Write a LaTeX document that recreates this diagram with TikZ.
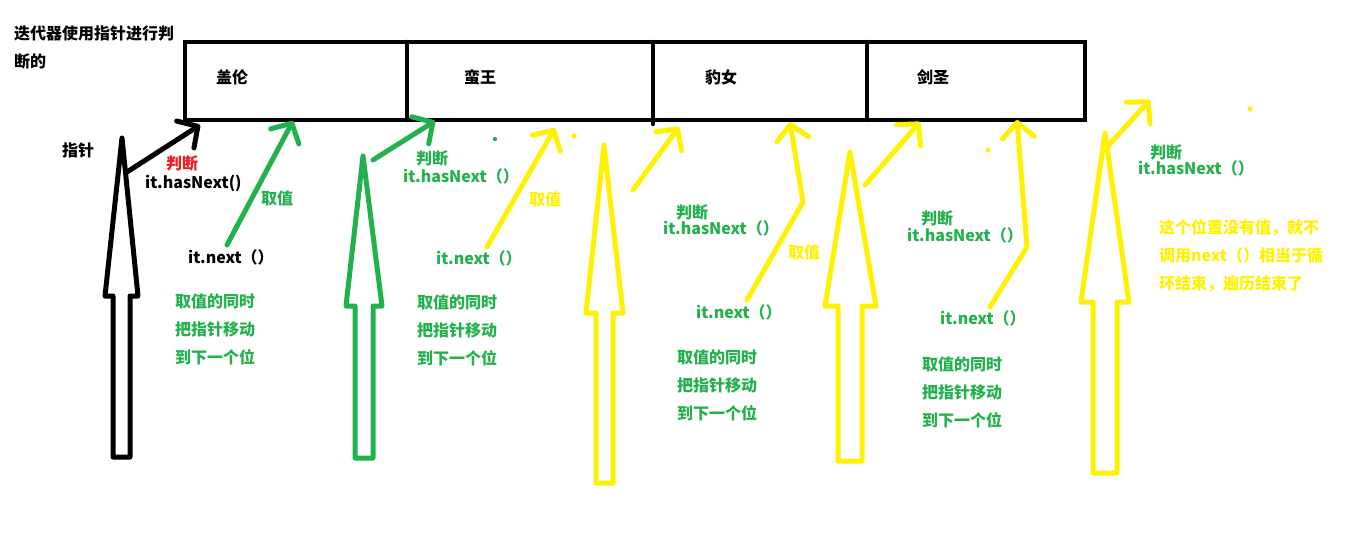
\documentclass[tikz,border=0pt]{standalone}
\usepackage{fontspec}
\setmainfont{Noto Sans CJK SC}
\usetikzlibrary{arrows.meta}
\definecolor{pgreen}{RGB}{34,177,76}
\definecolor{pyellow}{RGB}{255,242,0}
\definecolor{pred}{RGB}{237,28,36}
\newcommand\blockarr[9]{%
  \draw[blockline,#1] (#2,#3) -- (#6,#4) -- (#8,#4) -- (#8,#9) -- (#7,#9) -- (#7,#4) -- (#5,#4) -- cycle;}
\begin{document}
\begin{tikzpicture}[x=1pt,y=-1pt,
  txt/.style={anchor=west,inner sep=0pt,font=\fontsize{16}{28}\selectfont\bfseries,align=left},
  blockline/.style={line width=5pt,line join=round,line cap=round},
  ptr/.style={line width=5pt,line cap=round,line join=round,-{Straight Barb[length=15pt,width=32pt,round]}},
  boxline/.style={line width=4.5pt,line cap=round}]
\useasboundingbox[fill=white] (0,0) rectangle (1360,538);

% title
\node[txt] (title) at (14,47) {迭代器使用指针进行判\\断的};

% list box
\draw[boxline] (185,42) rectangle (1085,120);
\draw[boxline] (407,42) -- (407,120);
\draw[boxline] (653,42) -- (653,124);
\draw[boxline] (867,42) -- (867,120);
\node[txt] (e1) at (216,77) {盖伦};
\node[txt] (e2) at (464,77) {蛮王};
\node[txt] (e3) at (705,77) {豹女};
\node[txt] (e4) at (917,77) {剑圣};

\node[txt] (ptrlbl) at (62,150) {指针};

% block arrows (pointer positions)
\blockarr{black}{122}{138}{296}{105}{138}{113}{130}{457}
\blockarr{pgreen}{363}{156}{306}{346}{382}{355}{373}{458}
\blockarr{pyellow}{604}{145}{313}{586}{623}{596}{613}{483}
\blockarr{pyellow}{850}{152}{306}{825}{876}{838}{862}{461}
\blockarr{pyellow}{1105}{133}{302}{1081}{1129}{1093}{1117}{473}

% coordinates for thin arrows
\coordinate (a1s) at (127,172); \coordinate (a1e) at (200,125);
\coordinate (a2s) at (227,245); \coordinate (a2e) at (293,121);
\coordinate (a3s) at (373,160); \coordinate (a3e) at (435,121);
\coordinate (a4s) at (487,247); \coordinate (a4e) at (555,128);
\coordinate (a5s) at (633,190); \coordinate (a5e) at (679,127);
\coordinate (a6s) at (747,300); \coordinate (a6m) at (803,202); \coordinate (a6e) at (790,122);
\coordinate (a7s) at (865,185); \coordinate (a7e) at (920,122);
\coordinate (a8s) at (990,307); \coordinate (a8m) at (1027,247); \coordinate (a8e) at (1017,120);
\coordinate (a9s) at (1107,147); \coordinate (a9e) at (1150,100);

\draw[ptr,black] (a1s) -- (a1e);
\draw[ptr,pgreen] (a2s) -- (a2e);
\draw[ptr,pgreen] (a3s) -- (a3e);
\draw[ptr,pyellow] (a4s) -- (a4e);
\draw[ptr,pyellow] (a5s) -- (a5e);
\draw[ptr,pyellow] (a6s) -- (a6m) -- (a6e);
\draw[ptr,pyellow] (a7s) -- (a7e);
\draw[ptr,pyellow] (a8s) -- (a8m) -- (a8e);
\draw[ptr,pyellow] (a9s) -- (a9e);

% dots
\fill[pgreen] (495,139) circle (2.2);
\fill[pyellow] (574,136) circle (2.6);
\fill[pyellow] (988,150) circle (2.6);
\fill[pyellow] (1250,109) circle (2.6);

% labels, position 1
\node[txt,text=pred] (j1) at (166,163) {判断};
\node[txt] (h1) at (145,183) {it.hasNext()};
\node[txt,text=pgreen] (q1) at (261,198) {取值};
\node[txt] (n1) at (188,257) {it.next（）};
\node[txt,text=pgreen] (m1) at (175,329) {取值的同时\\把指针移动\\到下一个位};

% position 2
\node[txt,text=pgreen] (j2) at (416,158) {判断};
\node[txt,text=pgreen] (h2) at (403,176) {it.hasNext（）};
\node[txt,text=pgreen] (n2) at (436,258) {it.next（）};
\node[txt,text=pyellow] (q2) at (529,199) {取值};
\node[txt,text=pgreen] (m2) at (417,330) {取值的同时\\把指针移动\\到下一个位};

% position 3
\node[txt,text=pgreen] (j3) at (676,212) {判断};
\node[txt,text=pgreen] (h3) at (663,228) {it.hasNext（）};
\node[txt,text=pyellow] (q3) at (788,252) {取值};
\node[txt,text=pgreen] (n3) at (696,312) {it.next（）};
\node[txt,text=pgreen] (m3) at (677,385) {取值的同时\\把指针移动\\到下一个位};

% position 4
\node[txt,text=pgreen] (j4) at (921,218) {判断};
\node[txt,text=pgreen] (h4) at (907,235) {it.hasNext（）};
\node[txt,text=pgreen] (n4) at (940,318) {it.next（）};
\node[txt,text=pgreen] (m4) at (922,392) {取值的同时\\把指针移动\\到下一个位};

% position 5
\node[txt,text=pgreen] (j5) at (1150,152) {判断};
\node[txt,text=pgreen] (h5) at (1138,168) {it.hasNext（）};
\node[txt,text=pyellow] (endnote) at (1159,256) {这个位置没有值，就不\\调用next（）相当于循\\环结束，遍历结束了};
\end{tikzpicture}
\end{document}
